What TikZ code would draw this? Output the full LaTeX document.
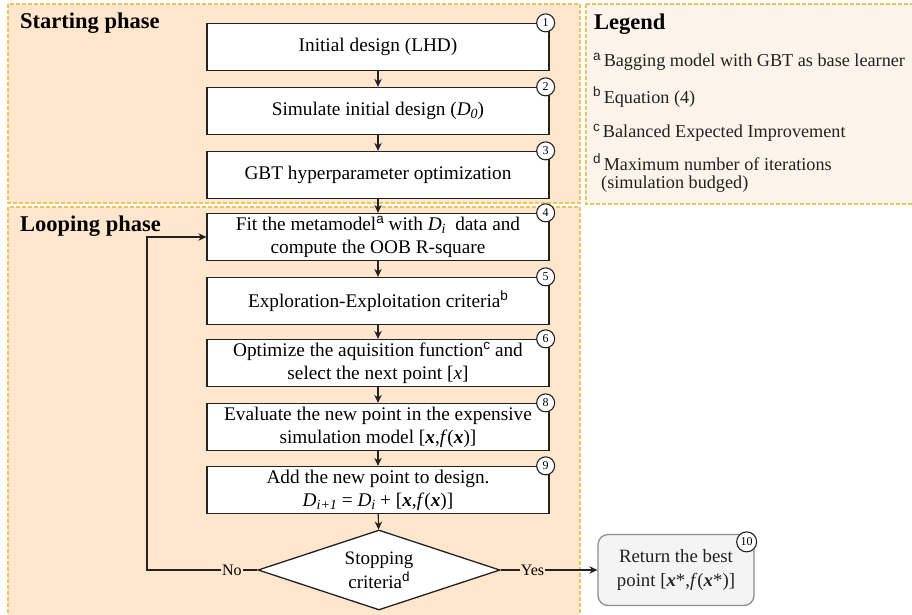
\documentclass[tikz,border=0pt]{standalone}
\usepackage{fontspec}
\setmainfont{Liberation Serif}
\setsansfont{Liberation Sans}
\usetikzlibrary{shapes.geometric,arrows.meta}
\definecolor{peach}{HTML}{FFE6CC}
\definecolor{legfill}{HTML}{FCF3EA}
\definecolor{gold}{HTML}{EBC45E}
\definecolor{dark}{HTML}{222222}
\definecolor{greyfill}{HTML}{F4F4F4}
\definecolor{greyline}{HTML}{8F8F8F}
\newcommand{\bx}{\textbf{\textit{x}}}
\newcommand{\sups}[1]{\raisebox{0.75ex}{\fontsize{13.5}{14}\selectfont\sffamily #1}}
\newcommand{\subs}[1]{\raisebox{-0.35ex}{\fontsize{14}{14}\selectfont #1}}
\tikzset{
  phase/.style={draw=gold, dashed, dash pattern=on 4pt off 2pt, line width=1.2pt},
  stepbox/.style={draw=dark, line width=1.3pt, fill=white, minimum width=342pt, minimum height=47pt, inner sep=2pt, align=center, font=\fontsize{19.3}{23}\selectfont},
  numc/.style={circle, draw=dark, line width=1.1pt, fill=white, minimum size=18pt, inner sep=0pt, font=\fontsize{12}{12}\selectfont},
  arr/.style={draw=dark, line width=1.2pt, -{Stealth[length=8pt,width=7.5pt]}},
  lbl/.style={fill=peach, inner sep=1pt, font=\fontsize{16}{16}\selectfont},
  titl/.style={anchor=base west, inner sep=0pt, font=\fontsize{22.5}{26}\selectfont\bfseries},
  legtxt/.style={anchor=base west, inner sep=0pt, font=\fontsize{18.2}{20}\selectfont, text=dark}
}
\begin{document}
\begin{tikzpicture}[x=1pt,y=-1pt]
\useasboundingbox (0,0) rectangle (912,615);
\fill[white] (0,0) rectangle (912,615);
% phase areas
\draw[phase, fill=peach] (8,4) rectangle (580,203);
\draw[phase, fill=peach] (8,207) rectangle (580,625);
\draw[phase, fill=legfill] (586,4) rectangle (925,204);
\node[titl] (t1) at (20,29) {Starting phase};
\node[titl] (t2) at (20,231) {Looping phase};
\node[titl] (t3) at (594,30) {Legend};
% legend
\node[legtxt] (la) at (593,67) {\sups{a}\,Bagging model with GBT as base learner};
\node[legtxt] (lb) at (593,103) {\sups{b}\,Equation (4)};
\node[legtxt] (lc) at (593,138) {\sups{c}\,Balanced Expected Improvement};
\node[legtxt] (ld) at (593,170) {\sups{d}\,Maximum number of iterations};
\node[legtxt] (ld2) at (601,188) {(simulation budged)};
% boxes
\node[stepbox] (b1) at (378,47) {Initial design (LHD)};
\node[stepbox] (b2) at (378,111) {Simulate initial design (\textit{D\subs{0}})};
\node[stepbox] (b3) at (378,175) {GBT hyperparameter optimization};
\node[stepbox] (b4) at (378,237) {Fit the metamodel\sups{a} with \textit{D\subs{i}}\ \ data and\\compute the OOB R-square};
\node[stepbox] (b5) at (378,301) {Exploration-Exploitation criteria\sups{b}};
\node[stepbox] (b6) at (378,363) {Optimize the aquisition function\sups{c} and\\select the next point [\textit{x}]};
\node[stepbox] (b8) at (378,427) {Evaluate the new point in the expensive\\simulation model [\bx,\textit{f}(\bx)]};
\node[stepbox] (b9) at (378,490) {Add the new point to design.\\\textit{D\subs{i+1}} = \textit{D\subs{i}} + [\bx,\textit{f}(\bx)]};
\node[diamond, draw=dark, line width=1.3pt, fill=white, minimum width=242pt, minimum height=80pt, inner sep=0pt, aspect=3, align=center, font=\fontsize{19}{24}\selectfont] (dia) at (379,570) {Stopping\\criteria\sups{d}};
\node[draw=greyline, line width=1.3pt, fill=greyfill, rounded corners=10pt, minimum width=156pt, minimum height=71pt, align=center, text=dark, font=\fontsize{18.8}{24}\selectfont] (b10) at (676,570) {Return the best\\point [\bx*,\textit{f}(\bx*)]};
% number circles
\node[numc] (n1) at ([xshift=-4pt]b1.north east) {1};
\node[numc] (n2) at ([xshift=-4pt]b2.north east) {2};
\node[numc] (n3) at ([xshift=-4pt]b3.north east) {3};
\node[numc] (n4) at ([xshift=-4pt]b4.north east) {4};
\node[numc] (n5) at ([xshift=-4pt]b5.north east) {5};
\node[numc] (n6) at ([xshift=-4pt]b6.north east) {6};
\node[numc] (n8) at ([xshift=-4pt]b8.north east) {8};
\node[numc] (n9) at ([xshift=-4pt]b9.north east) {9};
\node[numc, minimum size=20pt] (n10) at ([xshift=-8pt,yshift=-8pt]b10.north east) {10};
% arrows
\draw[arr] (b1) -- (b2);
\draw[arr] (b2) -- (b3);
\draw[arr] (b3) -- (b4);
\draw[arr] (b4) -- (b5);
\draw[arr] (b5) -- (b6);
\draw[arr] (b6) -- (b8);
\draw[arr] (b8) -- (b9);
\draw[arr] (b9) -- (dia);
\coordinate (loopc) at (147,570);
\draw[arr] (dia.west) -- node[lbl, pos=0.23] {No} (loopc) |- (b4.west);
\draw[arr] (dia.east) -- node[lbl, pos=0.33] {Yes} (b10.west);
\end{tikzpicture}
\end{document}
